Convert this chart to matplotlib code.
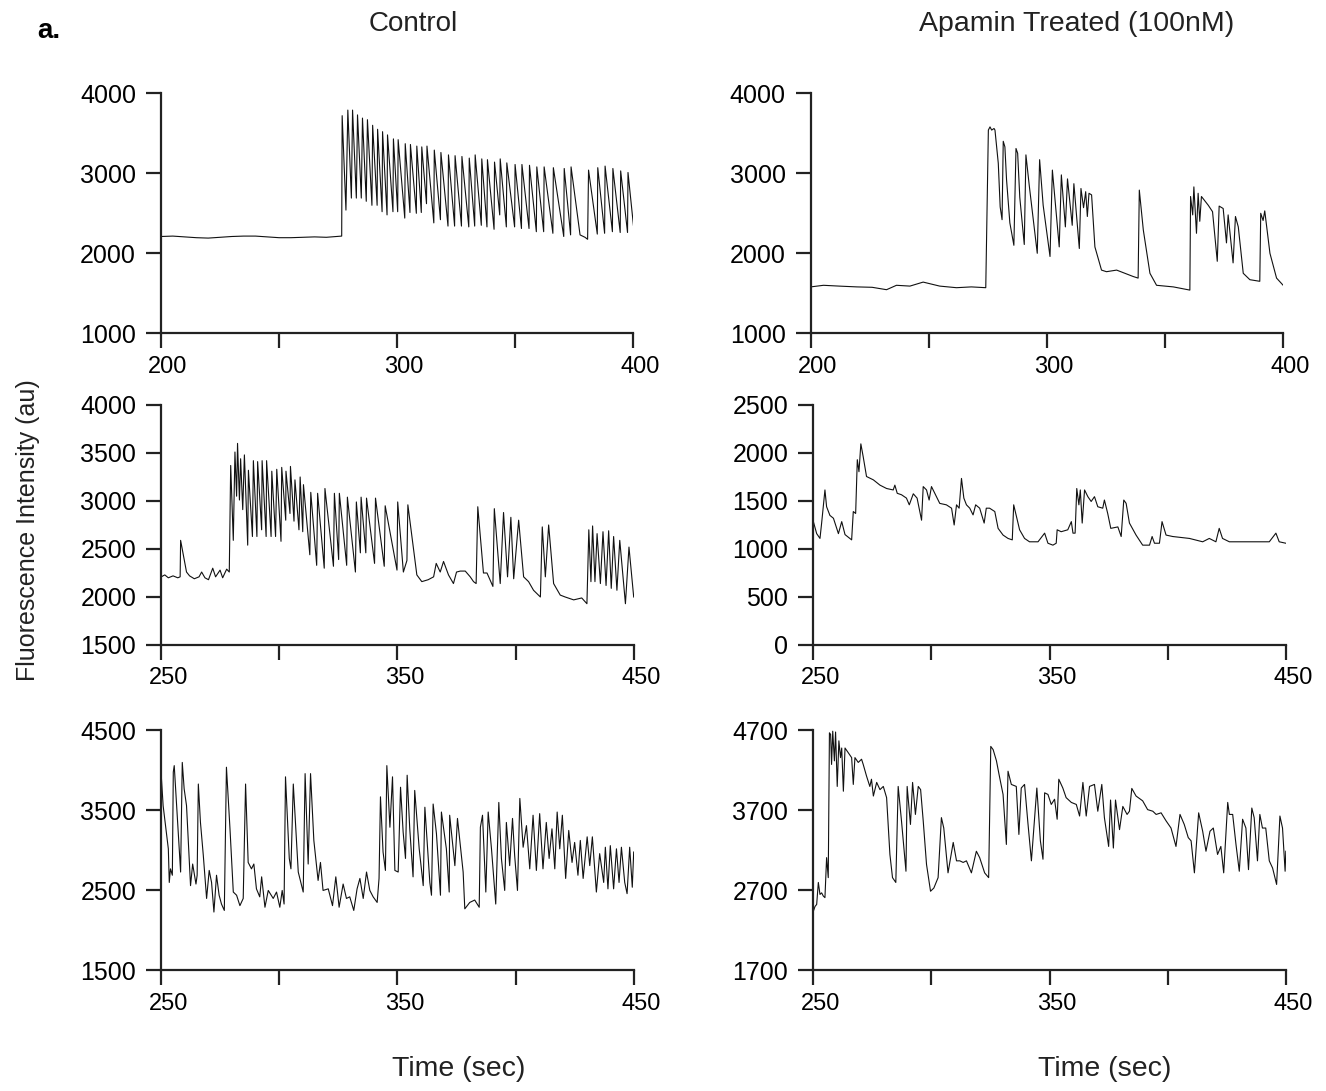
import matplotlib
matplotlib.use("Agg")
import matplotlib.pyplot as plt
import matplotlib.transforms as mtransforms

plt.rcParams['font.family'] = ['Liberation Sans', 'DejaVu Sans']

# ---- traces (time in s, fluorescence in au) ----

# Control, cell 1
ctrl1_t = [200, 205, 210, 215, 220, 225, 230, 235, 240, 245, 250, 255, 260, 265, 270, 276.5,
           276.7, 278.3, 279.1, 280.6, 281.1, 282.7, 283.2, 284.8, 285.3, 286.9, 287.4, 289.3,
           289.6, 291.5, 291.7, 293.6, 293.8, 295.7, 295.9, 298.2, 298.4, 300.2, 300.4, 303.2,
           303.4, 305.4, 305.6, 308.1, 308.3, 310.2, 310.4, 312.4, 312.6, 315.5, 315.7, 318.3,
           318.5, 321.5, 321.7, 324.3, 324.5, 327.2, 327.4, 330.3, 330.5, 332.8, 333.0, 335.6,
           335.8, 338.0, 338.2, 341.0, 341.2, 343.4, 343.6, 346.2, 346.4, 349.7, 349.9, 352.6,
           352.8, 355.8, 356.0, 358.9, 359.1, 362.0, 362.2, 365.9, 366.1, 370.5, 370.7, 373.4,
           373.6, 377.4, 379.5, 380.6, 381.0, 384.7, 384.9, 387.8, 388.0, 391.1, 391.3, 394.4,
           394.6, 397.5, 397.7, 400.0]
ctrl1_v = [2210, 2215, 2205, 2195, 2190, 2200, 2210, 2215, 2215, 2205, 2195, 2195, 2200, 2205, 2200, 2215,
           3720, 2540, 3790, 2690, 3790, 2690, 3730, 2690, 3690, 2650, 3670, 2600,
           3600, 2600, 3550, 2520, 3520, 2480, 3480, 2520, 3430, 2520, 3420, 2440,
           3370, 2510, 3360, 2500, 3340, 2510, 3330, 2620, 3340, 2380, 3290, 2420,
           3260, 2340, 3230, 2340, 3220, 2340, 3210, 2330, 3190, 2340, 3230, 2350,
           3180, 2330, 3170, 2300, 3140, 2480, 3180, 2330, 3130, 2330, 3110, 2310,
           3110, 2310, 3100, 2270, 3080, 2270, 3080, 2250, 3070, 2210, 3060, 2230,
           3080, 2230, 2200, 2175, 3040, 2240, 3070, 2250, 3090, 2270, 3060, 2260,
           3030, 2260, 3010, 2350]

# Apamin treated, cell 1
apa1_t = [200, 205.4, 212, 219.5, 226, 232.1, 236.3, 242, 247.6, 254.6, 261.7, 268, 274.1,
          275.2, 275.9, 276.6, 277.6, 278.0, 279.4, 280.2, 281.0,
          281.5, 282.2, 282.9, 284.3, 286.0, 286.9, 287.6, 288.5, 290.4, 291.1, 292.5, 295.9,
          296.9, 298.4, 301.3, 302.3, 305.2, 306.1, 307.8, 308.7, 310.7, 311.4, 313.7, 314.4,
          315.5, 316.4, 317.1, 317.8, 318.9, 320.3, 323.1, 325.2, 329.5, 336.5, 338.6, 339.1,
          340.8, 343.6, 346.4, 353.5, 360.5, 360.8, 361.7, 362.2, 363.3, 364.0, 364.7, 365.4,
          368.3, 370.1, 372.1, 372.9, 374.6, 376.0, 376.7, 378.8, 379.8, 381.0, 383.1, 385.9,
          390.1, 390.5, 391.5, 392.2, 394.4, 397.2, 400.0]
apa1_v = [1580, 1600, 1590, 1580, 1575, 1545, 1600, 1590, 1640, 1590, 1570, 1580, 1570,
          3540, 3580, 3540, 3560, 3540, 3125, 2580, 2420,
          3400, 3330, 2920, 2380, 2100, 3310, 3250, 2700, 2110, 3230, 2850, 2000,
          3170, 2600, 1960, 3040, 2080, 2980, 2330, 2930, 2350, 2870, 2060, 2810,
          2570, 2770, 2460, 2750, 2730, 2080, 1790, 1770, 1790, 1710, 1690, 2790,
          2290, 1750, 1600, 1580, 1540, 2710, 2480, 2830, 2250, 2750, 2400, 2710,
          2600, 2520, 1900, 2590, 2560, 2130, 2480, 1880, 2460, 2330, 1750, 1670,
          1650, 2500, 2410, 2530, 2000, 1690, 1600]

# Control, cell 2
ctrl2_t = [250, 251.5, 253, 255, 257, 258.0, 258.2, 260.7, 262, 264, 266, 267.1, 268.5, 270,
           271.8, 273, 274.9, 276, 277.7, 278.8,
           279.4, 280.5, 281.2, 281.9, 282.3, 283.1, 283.6, 284.5, 285.2, 286.6, 286.9, 288.6,
           289.0, 290.5, 290.8, 292.5, 292.7, 294.4, 294.6, 296.5, 296.8, 298.4, 298.9, 300.7,
           301.0, 302.7, 302.8, 304.5, 304.7, 306.2, 306.6, 308.3, 308.8, 309.9, 310.2,
           312.9, 313.3, 315.8, 316.2, 319.0, 319.3, 322.9, 323.3, 325.1, 325.4, 328.5, 328.8,
           332.2, 332.6, 334.3, 334.6, 336.6, 336.9, 340.3, 340.7, 344.4, 344.8, 349.8, 350.1,
           352.5, 354.0, 354.4, 358.2, 360.3, 363, 365.3, 366.4, 368.1, 369.5, 371.6, 373.7,
           375, 376.6, 378.7, 380.8, 382.2, 383.3,
           384.0, 386.4, 387.9, 390.4, 391.0, 393.5, 394.9, 396.6, 398.0, 399.2, 401.3, 403.4,
           405.5, 407.6, 410.5, 411.3, 412.6, 414.0, 416.1, 418.9, 421, 424.6, 428, 430.2,
           431.0, 431.9, 432.6, 433.6, 434.5, 435.9, 437.0, 438.3, 439.4, 440.5, 441.5, 442.9,
           444.1, 446.5, 448.0, 450.0]
ctrl2_v = [2210, 2230, 2200, 2220, 2200, 2210, 2590, 2260, 2220, 2190, 2210, 2260, 2200, 2180,
           2300, 2210, 2280, 2200, 2290, 2260,
           3370, 2590, 3510, 3050, 3600, 3010, 3440, 2910, 3480, 2540, 3320, 2630,
           3420, 2630, 3410, 2700, 3420, 2630, 3420, 2630, 3310, 2630, 3330, 2580,
           3350, 2800, 3310, 2870, 3360, 2790, 3220, 2700, 3250, 2680, 3170,
           2440, 3090, 2330, 3080, 2300, 3130, 2320, 3080, 2390, 3080, 2330, 3040,
           2260, 2990, 2460, 3040, 2460, 3030, 2350, 3030, 2320, 2950, 2280, 2990,
           2260, 2380, 2960, 2230, 2160, 2180, 2210, 2350, 2260, 2370, 2230, 2140,
           2260, 2270, 2270, 2210, 2160, 2140,
           2940, 2250, 2250, 2110, 2920, 2140, 2880, 2210, 2830, 2190, 2800, 2210,
           2160, 2070, 2000, 2730, 2210, 2750, 2140, 2020, 2000, 1970, 1990, 1930,
           2700, 2160, 2740, 2160, 2660, 2140, 2680, 2120, 2690, 2090, 2630, 2070,
           2590, 1930, 2520, 2000]

# Apamin treated, cell 2
apa2_t = [250, 251.4, 252.8, 253.5, 254.9, 255.6, 257.0, 258.5, 260.6, 262.0, 263.4, 266.2,
          266.9, 267.9, 268.6, 269.3, 270.1, 271.1, 272.5, 275.4, 278.2, 281.0, 283.8, 284.5,
          285.5, 287.3, 289.4, 290.6, 292.3, 293.9, 295.8, 296.5, 297.9, 299.0, 300.0, 301.4,
          303.5, 306.3, 308.5, 309.6, 310.6, 311.7, 312.7, 313.7, 314.8, 316.2, 317.6, 318.7,
          320.4, 322.3, 323.2, 324.6, 326.8, 328.2, 330.3, 332.4, 334.2, 334.8, 337.3, 339.4,
          341.5, 345.1, 347.9, 349.3, 351.4, 352.8, 353.2, 354.9, 357.7, 359.2, 359.9, 360.8,
          361.5, 362.4, 363.0, 363.8, 364.8, 366.2, 367.6, 369.0, 370.4, 372.5, 373.2, 374.6,
          375.9, 378.9, 380.3, 381.4, 382.4, 383.8, 386.6, 389.4, 392.3, 393.4, 394.4, 396.5,
          397.6, 399.3, 402.1, 409.2, 414.8, 417.6, 420.4, 421.8, 423.2, 426.1, 437.3, 443.0,
          445.8, 447.2, 450.0]
apa2_v = [1285, 1160, 1110, 1270, 1615, 1440, 1350, 1320, 1160, 1285, 1150, 1095,
          1390, 1370, 1930, 1805, 2095, 1960, 1755, 1720, 1665, 1630, 1615, 1665,
          1580, 1565, 1530, 1460, 1575, 1530, 1300, 1650, 1615, 1510, 1650, 1580,
          1475, 1460, 1425, 1250, 1460, 1425, 1735, 1530, 1460, 1425, 1355, 1460,
          1425, 1270, 1425, 1425, 1390, 1215, 1145, 1110, 1095, 1460, 1200, 1110,
          1075, 1075, 1165, 1060, 1040, 1060, 1200, 1180, 1200, 1285, 1165, 1165,
          1630, 1460, 1615, 1270, 1615, 1545, 1495, 1545, 1440, 1425, 1510, 1370,
          1215, 1230, 1130, 1510, 1475, 1270, 1145, 1040, 1040, 1130, 1060, 1060,
          1285, 1145, 1130, 1110, 1075, 1110, 1075, 1215, 1110, 1075, 1075, 1075,
          1165, 1075, 1060]

# Control, cell 3
ctrl3_t = [250.0, 250.8, 252.0, 253.0, 253.4, 253.9, 254.7, 255.1, 255.5, 256.5, 257.2, 258.2,
           258.9, 259.7, 260.7, 261.7, 262.4, 263.3, 264.7, 265.2, 265.7, 266.6, 267.8, 269.2,
           270.3, 271.3, 272.3, 273.4, 274.5, 275.5, 276.7, 277.6, 279.1, 280.5, 281.9, 283.3,
           284.7, 285.7, 286.8, 288.2, 289.2, 290.3, 291.7, 292.5, 293.9, 295.3, 297.4, 298.8,
           300.2, 301.2, 302.0, 302.6, 304.2, 304.9, 305.9, 308.0, 310.1, 310.9, 312.2, 313.2,
           314.6, 316.4, 317.4, 318.5, 320.7, 322.5, 323.9, 325.3, 327.0, 328.4, 329.8, 331.5,
           332.9, 334.1, 335.5, 336.9, 338.3, 339.7, 341.4, 342.2, 342.8, 343.9, 344.9, 345.5,
           346.8, 347.9, 348.9, 350.3, 351.3, 352.4, 353.4, 354.1, 355.2, 356.6, 357.3, 359.2,
           360.9, 361.6, 363.7, 364.4, 365.1, 366.5, 368.2, 368.6, 370.7, 371.9, 372.1, 374.3,
           375.4, 377.8, 378.5, 380.6, 382.7, 384.6, 385.1, 386.0, 387.4, 388.4, 389.8, 391.6,
           392.9, 394.0, 395.4, 396.1, 397.5, 398.7, 399.6, 400.8, 401.8, 403.2, 404.6, 406.0,
           407.4, 408.8, 410.2, 411.6, 413.0, 414.2, 415.4, 416.6, 417.6, 418.7, 419.8, 421.2,
           422.5, 423.9, 425.0, 426.4, 427.4, 428.6, 430.3, 431.4, 432.5, 434.2, 435.6, 437.3,
           438.0, 439.1, 440.1, 441.5, 442.7, 443.8, 444.8, 446.2, 447.2, 448.3, 449.4, 450.0]
ctrl3_v = [3940, 3560, 3270, 3020, 2600, 2770, 2690, 3980, 4060, 3560, 3190, 2730,
           4100, 3770, 3560, 2960, 2560, 2830, 2580, 2690, 3830, 3350, 2940, 2400,
           2750, 2600, 2230, 2690, 2440, 2330, 2250, 4040, 3270, 2480, 2440, 2310,
           2400, 3830, 2850, 2770, 2830, 2520, 2420, 2670, 2290, 2500, 2400, 2480,
           2290, 2500, 2330, 3920, 2900, 2770, 3830, 2730, 2480, 3960, 2830, 3960,
           3125, 2625, 2850, 2500, 2520, 2310, 2670, 2290, 2580, 2400, 2420, 2250,
           2520, 2650, 2400, 2730, 2500, 2420, 2350, 2650, 3670, 2980, 2750, 4060,
           3290, 3920, 2750, 2730, 3790, 3230, 2900, 3940, 3270, 2670, 3750, 3020,
           2560, 3540, 2600, 2440, 3580, 3210, 2440, 3480, 3020, 2480, 3440, 2810,
           3400, 2730, 2270, 2350, 2380, 2290, 3290, 3440, 2480, 3480, 3020, 2330,
           3600, 2900, 2500, 3350, 2810, 3400, 2940, 2500, 3650, 3040, 3310, 2770,
           3440, 2750, 3460, 2770, 3350, 2900, 3270, 2770, 3480, 3020, 3440, 2650,
           3250, 2850, 3100, 2690, 3125, 2650, 3170, 2810, 3170, 2480, 2960, 2600,
           3040, 2520, 3060, 2520, 3020, 2600, 3040, 2600, 2460, 3040, 2540, 2980]

# Apamin treated, cell 3
apa3_t = [250.0, 250.7, 251.4, 252.1, 252.8, 253.5, 254.2, 254.9, 255.6, 256.3, 256.8, 257.3,
          257.7, 258.2, 258.9, 259.4, 260.1, 260.8, 261.5, 262.0, 262.7, 263.4, 264.8, 266.2,
          266.9, 267.6, 269.0, 270.4, 271.1, 272.5, 273.9, 274.6, 275.4, 276.8, 278.2, 279.6,
          281.0, 282.4, 283.5, 284.9, 285.9, 287.3, 289.2, 289.7, 291.1, 292.0, 293.2, 294.4,
          295.4, 296.5, 297.9, 299.6, 301.0, 302.8, 304.2, 305.2, 307.0, 309.2, 310.6, 312.0,
          313.4, 314.8, 316.9, 319.0, 320.4, 322.5, 324.2, 325.1, 326.1, 327.5, 328.6, 330.3,
          331.7, 332.4, 333.8, 335.9, 337.0, 338.0, 339.4, 340.8, 342.3, 344.6, 346.1, 347.2,
          347.9, 349.3, 350.7, 352.1, 353.2, 353.9, 355.6, 357.0, 359.2, 361.3, 362.7, 364.1,
          365.5, 366.9, 369.0, 370.4, 372.1, 373.2, 375.0, 375.8, 377.0, 377.9, 379.6, 381.0,
          382.8, 383.8, 384.8, 386.6, 389.4, 391.5, 393.7, 395.1, 397.2, 399.3, 401.4, 403.5,
          405.2, 407.0, 408.7, 409.9, 411.3, 413.1, 414.8, 416.2, 417.9, 419.3, 421.1, 422.5,
          423.7, 425.4, 426.1, 427.5, 428.9, 430.3, 431.7, 433.1, 434.2, 435.6, 436.6, 438.0,
          439.0, 440.1, 441.5, 443.0, 444.4, 446.1, 447.5, 448.6, 449.7, 450.0]
apa3_v = [2440, 2500, 2525, 2800, 2650, 2670, 2630, 2610, 3110, 2860, 4670, 4650,
          4275, 4690, 4320, 4680, 4000, 4570, 4360, 4480, 3940, 4480, 4420, 4360,
          4025, 4360, 4300, 4340, 4275, 4130, 4000, 4090, 3880, 4050, 3960, 4000,
          3860, 3150, 2860, 2800, 4000, 3570, 2940, 4000, 3525, 4050, 3650, 4000,
          3960, 3570, 3025, 2690, 2730, 2860, 3610, 3480, 2920, 3300, 3070, 3070,
          3050, 3070, 2920, 3190, 3110, 2920, 2860, 4500, 4460, 4320, 4150, 3900,
          3275, 4190, 4025, 4000, 3400, 3980, 4025, 3550, 3070, 3980, 3320, 3090,
          3920, 3900, 3775, 3840, 3590, 4090, 3980, 3860, 3800, 3775, 3630, 4050,
          3630, 4000, 4025, 3690, 4025, 3610, 3250, 3830, 3230, 3830, 3460, 3750,
          3650, 3690, 3975, 3880, 3820, 3710, 3690, 3650, 3670, 3570, 3480, 3250,
          3650, 3525, 3360, 3320, 2920, 3670, 3440, 3190, 3440, 3480, 3150, 3250,
          2920, 3800, 3650, 3650, 3275, 2940, 3590, 3480, 2960, 3730, 3610, 3070,
          3650, 3480, 3480, 3070, 2980, 2775, 3630, 3480, 2940, 3190]

col_titles = ["Control", "Apamin Treated (100nM)"]
row_xlims = [(200, 400), (250, 450), (250, 450)]
row_yticks = [
    ([1000, 2000, 3000, 4000], [1000, 2000, 3000, 4000]),
    ([1500, 2000, 2500, 3000, 3500, 4000], [0, 500, 1000, 1500, 2000, 2500]),
    ([1500, 2500, 3500, 4500], [1700, 2700, 3700, 4700]),
]
traces = [
    [(ctrl1_t, ctrl1_v), (apa1_t, apa1_v)],
    [(ctrl2_t, ctrl2_v), (apa2_t, apa2_v)],
    [(ctrl3_t, ctrl3_v), (apa3_t, apa3_v)],
]

fig = plt.figure(figsize=(13.26, 10.91), dpi=100)

# axes boxes in figure fractions
lefts = [[0.1214, 0.6114], [0.1216, 0.6134], [0.1216, 0.6134]]
bottoms = [0.6945, 0.4088, 0.1105]
width, height = 0.3563, 0.2200

label_shift = mtransforms.ScaledTranslation(7 / 100, 0, fig.dpi_scale_trans)

for r in range(3):
    x0, x1 = row_xlims[r]
    xt = [x0, x0 + 50, x0 + 100, x0 + 150, x1]
    xl = [str(x0), "", str(x0 + 100), "", str(x1)]
    for c in range(2):
        ax = fig.add_axes([lefts[r][c], bottoms[r], width, height])
        t, v = traces[r][c]
        ax.plot(t, v, color="#111111", lw=0.8)
        yt = row_yticks[r][c]
        ax.set_xlim(x0, x1)
        ax.set_ylim(yt[0], yt[-1])
        ax.set_xticks(xt)
        ax.set_xticklabels(xl)
        ax.set_yticks(yt)
        ax.set_yticklabels([str(y) for y in yt])
        for s in ["top", "right"]:
            ax.spines[s].set_visible(False)
        for s in ["left", "bottom"]:
            ax.spines[s].set_linewidth(1.6)
            ax.spines[s].set_color("#222222")
        ax.tick_params(axis="both", direction="out", length=11, width=1.6, color="#222222")
        ax.tick_params(axis="y", labelsize=18, pad=7)
        ax.tick_params(axis="x", labelsize=17, pad=5)
        for lab in ax.get_xticklabels():
            lab.set_transform(lab.get_transform() + label_shift)

fig.text(0.028, 0.972, "a.", fontsize=20, fontweight="bold", ha="left", va="center")
fig.text(413 / 1326, 1 - 24 / 1091, col_titles[0], fontsize=20, ha="center", va="center", color="#222222")
fig.text(1077 / 1326, 1 - 24 / 1091, col_titles[1], fontsize=20.5, ha="center", va="center", color="#222222")
fig.text(28 / 1326, 1 - 530 / 1091, "Fluorescence Intensity (au)", fontsize=18, rotation=90,
         ha="center", va="center", color="#222222")
fig.text(459 / 1326, 1 - 1069 / 1091, "Time (sec)", fontsize=20.5, ha="center", va="center", color="#222222")
fig.text(1105 / 1326, 1 - 1069 / 1091, "Time (sec)", fontsize=20.5, ha="center", va="center", color="#222222")

fig.savefig("out.png", dpi=100)
